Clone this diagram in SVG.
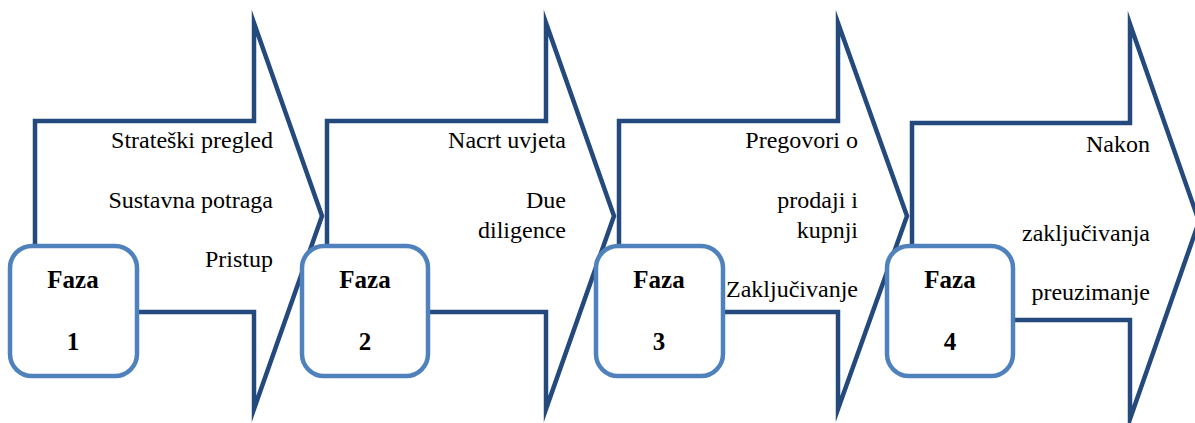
<svg xmlns="http://www.w3.org/2000/svg" width="1195" height="423" viewBox="0 0 1195 423">
<style>
.arrow{fill:#ffffff;stroke:#24497C;stroke-width:4.5;stroke-linejoin:miter;stroke-miterlimit:10}
.box{fill:#ffffff;stroke:#4F81BD;stroke-width:4.5}
.t{font-family:"Liberation Serif","Times New Roman",serif;font-size:24px;fill:#000;text-anchor:end}
.b{font-family:"Liberation Serif","Times New Roman",serif;font-size:25px;font-weight:bold;fill:#000;text-anchor:middle}
</style>
<rect width="1195" height="423" fill="#ffffff"/>
<g id="arrow-1">
<path class="arrow" d="M35,121 H254 V23 L322,216 L254,409 V312 H35 Z"/>
<text class="t" x="273" y="148">Strateški pregled</text>
<text class="t" x="273" y="208">Sustavna potraga</text>
<text class="t" x="273" y="267">Pristup</text>
</g>
<g id="arrow-2">
<path class="arrow" d="M327,121 H546 V23 L614,216 L546,409 V312 H327 Z"/>
<text class="t" x="566" y="148">Nacrt uvjeta</text>
<text class="t" x="566" y="208">Due</text>
<text class="t" x="566" y="238">diligence</text>
</g>
<g id="arrow-3">
<path class="arrow" d="M619,121 H838 V23 L907,216 L838,409 V312 H619 Z"/>
<text class="t" x="858" y="148">Pregovori o</text>
<text class="t" x="858" y="208">prodaji i</text>
<text class="t" x="858" y="238">kupnji</text>
<text class="t" x="858" y="297">Zaključivanje</text>
</g>
<g id="arrow-4">
<path class="arrow" d="M912,123 H1130 V24 L1199,221.5 L1130,419 V320 H912 Z"/>
<text class="t" x="1150" y="152">Nakon</text>
<text class="t" x="1150" y="241">zaključivanja</text>
<text class="t" x="1150" y="300">preuzimanje</text>
</g>
<g id="phase-1">
<rect class="box" x="10" y="246" width="127" height="130" rx="22"/>
<text class="b" x="73" y="288">Faza</text>
<text class="b" x="73" y="350">1</text>
</g>
<g id="phase-2">
<rect class="box" x="302" y="246" width="126" height="130" rx="22"/>
<text class="b" x="365" y="288">Faza</text>
<text class="b" x="365" y="350">2</text>
</g>
<g id="phase-3">
<rect class="box" x="596" y="246" width="127" height="130" rx="22"/>
<text class="b" x="659" y="288">Faza</text>
<text class="b" x="659" y="350">3</text>
</g>
<g id="phase-4">
<rect class="box" x="887" y="246" width="126" height="130" rx="22"/>
<text class="b" x="950" y="288">Faza</text>
<text class="b" x="950" y="350">4</text>
</g>
<g id="connectors"></g>
</svg>
